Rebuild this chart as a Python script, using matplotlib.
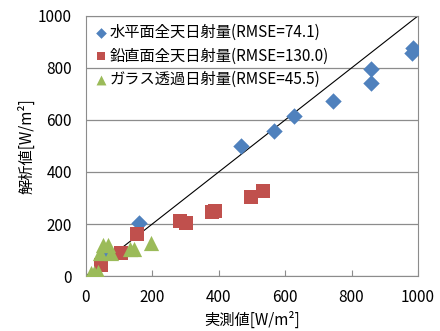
import matplotlib
matplotlib.use('Agg')
import matplotlib.pyplot as plt

plt.rcParams['font.family'] = ['Noto Sans CJK JP', 'DejaVu Sans']

# 水平面全天日射量
horiz_x = [986, 982, 860, 859, 745, 628, 568, 466, 161, 60]
horiz_y = [878, 859, 795, 741, 674, 617, 556, 501, 205, 85]

# 鉛直面全天日射量
vert_x = [534, 496, 388, 381, 301, 283, 155, 107, 47]
vert_y = [328, 305, 249, 246, 205, 213, 161, 89, 44]

# ガラス透過日射量
glass_x = [195, 132, 145, 52, 67, 42, 77, 17, 37, 25]
glass_y = [126, 103, 103, 119, 119, 87, 88, 10, 17, 12]

labels = ['水平面全天日射量(RMSE=74.1)',
          '鉛直面全天日射量(RMSE=130.0)',
          'ガラス透過日射量(RMSE=45.5)']

fig = plt.figure(figsize=(4.4, 3.31), dpi=100)
ax = fig.add_axes([0.195, 0.166, 0.755, 0.786])

ax.plot([0, 1000], [0, 1000], color='black', lw=0.8, zorder=2)
ax.scatter(horiz_x, horiz_y, marker='D', s=70, color='#4F81BD', label=labels[0], zorder=3, linewidths=0)
ax.scatter(vert_x, vert_y, marker='s', s=95, color='#C0504D', label=labels[1], zorder=3, linewidths=0)
ax.scatter(glass_x, glass_y, marker='^', s=120, color='#9BBB59', label=labels[2], zorder=3, linewidths=0)

ax.set_xlim(0, 1000)
ax.set_ylim(0, 1000)
ax.set_xticks(range(0, 1001, 200))
ax.set_yticks(range(0, 1001, 200))
ax.yaxis.grid(True, color='#8c8c8c', lw=0.9)
ax.set_axisbelow(True)
for s in ax.spines.values():
    s.set_color('#8c8c8c')
ax.tick_params(axis='x', direction='in', length=4, color='#8c8c8c', labelsize=11, pad=9)
ax.tick_params(axis='y', length=0, labelsize=11, pad=10)

ax.set_xlabel('実測値[W/m²]', fontsize=11, labelpad=4)
ax.set_ylabel('解析値[W/m²]', fontsize=11, labelpad=2)

leg = ax.legend(loc='upper left', frameon=False, fontsize=11, handletextpad=0.05,
                borderaxespad=0.1, labelspacing=0.45, handlelength=1.0,
                markerscale=0.65, borderpad=0.4)

fig.savefig('out.png', dpi=100)
